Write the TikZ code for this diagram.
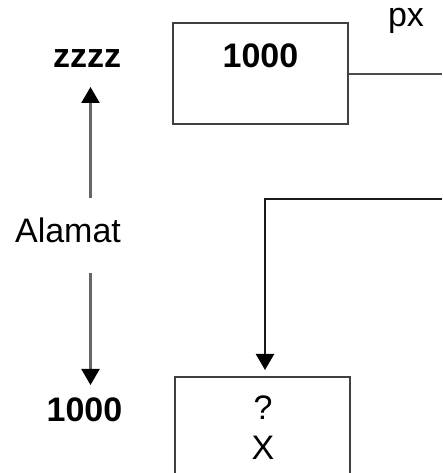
\documentclass[tikz,border=0pt]{standalone}
\usepackage{fontspec}
\setmainfont{Liberation Sans}
\usetikzlibrary{arrows.meta}
\begin{document}
\begin{tikzpicture}[x=1pt,y=1pt,
  lbl/.style={font=\fontsize{34}{40}\selectfont, inner sep=0pt, anchor=base},
  blbl/.style={lbl, font=\fontsize{34}{40}\selectfont\bfseries},
  cell/.style={draw=black!75, line width=2.2pt, minimum width=175pt, inner sep=0pt},
  arr/.style={line width=2.2pt, -{Triangle[length=16pt,width=18pt,color=black]}}]
\useasboundingbox (0,0) rectangle (442,473);
\clip (0,0) rectangle (442,473);

% memory cells
\node[cell, minimum height=101pt] (topbox) at (260.5,399.5) {};
\node[cell, minimum height=130pt] (botbox) at (262.5,31) {};

% cell contents and labels
\node[blbl] (val) at (260.5,405) {1000};
\node[lbl] (px) at (406,446) {px};
\node[blbl] (zzzz) at (87,405) {zzzz};
\node[lbl] (alamat) at (68,230) {Alamat};
\node[blbl] (addr) at (84.5,51) {1000};
\node[lbl] (q) at (263,53) {?};
\node[lbl] (x) at (263,13) {X};

% address arrows
\coordinate (upfrom) at (90.5,275);
\coordinate (upto) at (90.5,386);
\coordinate (downfrom) at (90.5,200);
\coordinate (downto) at (90.5,88);
\draw[arr, black!60] (upfrom) -- (upto);
\draw[arr, black!60] (downfrom) -- (downto);

% pointer lines
\coordinate (pxout) at (442,399);
\coordinate (pxin) at (442,274);
\coordinate (tip) at (265,103);
\draw[line width=2.2pt, black!70] (topbox.east |- pxout) -- (pxout);
\draw[arr, black!90] (pxin) -| (tip);
\end{tikzpicture}
\end{document}
